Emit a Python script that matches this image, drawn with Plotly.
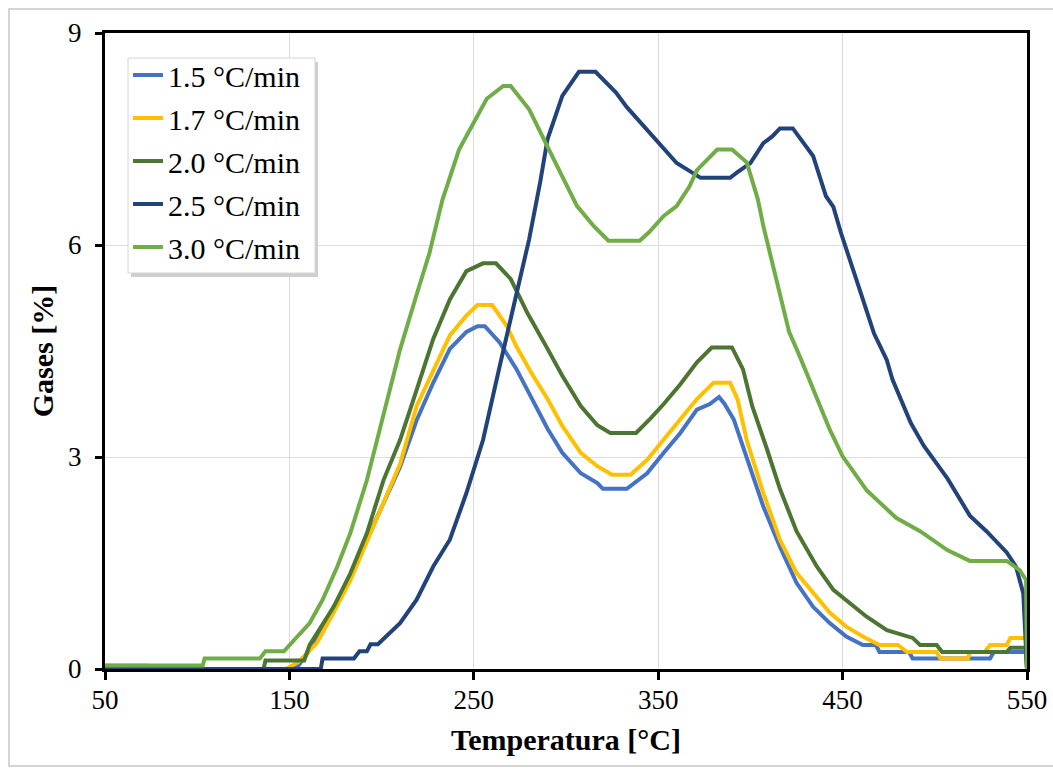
import plotly.graph_objects as go

# ---------------- data ----------------
x_15 = [50, 150, 155, 161, 167, 174, 183, 192, 201, 210, 219, 228, 237, 246, 252, 256, 264, 273, 281, 290, 298,
        308, 317, 320, 333, 344, 353, 362, 371, 378, 383, 386, 391, 398, 407, 416, 425, 434, 443, 452, 461,
        468, 470, 486, 488, 530, 532, 549.5, 550]
y_15 = [0, 0, 0.05, 0.27, 0.55, 0.88, 1.3, 1.83, 2.35, 2.86, 3.52, 4.05, 4.53, 4.77, 4.85, 4.85, 4.62, 4.25, 3.85,
        3.4, 3.06, 2.77, 2.63, 2.55, 2.55, 2.77, 3.06, 3.34, 3.67, 3.75, 3.85, 3.75, 3.53, 3.01, 2.3, 1.73, 1.22,
        0.88, 0.65, 0.46, 0.34, 0.34, 0.24, 0.24, 0.15, 0.15, 0.24, 0.24, 0]

x_17 = [50, 73, 74, 148, 155, 165, 174, 183, 192, 201, 210, 219, 228, 237, 246, 252, 260, 268, 273, 281, 290,
        298, 308, 317, 325, 335, 344, 353, 362, 371, 380, 389, 393, 398, 407, 416, 425, 434, 443, 452, 461,
        470, 480, 485, 501, 503, 518, 519, 527, 530, 539, 541, 549.5, 550]
y_17 = [0.05, 0.05, 0, 0, 0.1, 0.37, 0.8, 1.25, 1.8, 2.35, 2.9, 3.72, 4.23, 4.72, 5.0, 5.15, 5.15, 4.85, 4.57,
        4.2, 3.82, 3.44, 3.06, 2.87, 2.75, 2.75, 2.96, 3.24, 3.53, 3.82, 4.05, 4.05, 3.82, 3.24, 2.49, 1.83,
        1.36, 1.07, 0.8, 0.6, 0.46, 0.34, 0.34, 0.24, 0.24, 0.15, 0.15, 0.24, 0.24, 0.34, 0.34, 0.44, 0.44, 0]

x_20 = [50, 136, 137, 158, 161, 174, 183, 192, 201, 210, 219, 228, 237, 246, 255, 262, 270, 279, 290, 298, 308,
        317, 324, 338, 346, 353, 362, 371, 379, 390, 396, 401, 409, 416, 425, 436, 445, 454, 463, 474, 488,
        492, 501, 504, 539, 541, 549.5, 550]
y_20 = [0, 0, 0.12, 0.12, 0.34, 0.88, 1.35, 1.92, 2.67, 3.24, 3.95, 4.67, 5.23, 5.63, 5.74, 5.74, 5.52, 5.04,
        4.53, 4.15, 3.72, 3.45, 3.34, 3.34, 3.55, 3.75, 4.03, 4.34, 4.55, 4.55, 4.24, 3.72, 3.11, 2.55, 1.95,
        1.45, 1.12, 0.93, 0.74, 0.55, 0.44, 0.34, 0.34, 0.24, 0.24, 0.3, 0.3, 0]

x_25 = [50, 167, 168, 185, 188, 192, 194, 198, 210, 219, 228, 237, 246, 255, 264, 273, 280, 286, 290, 298, 307,
        316, 320, 327, 333, 342, 353, 360, 373, 389, 393, 400, 407, 412, 416, 423, 434, 441, 445, 449, 461,
        467, 474, 477, 487, 494, 507, 519, 528, 539, 544, 548, 550]
y_25 = [0, 0, 0.15, 0.15, 0.25, 0.25, 0.35, 0.35, 0.65, 0.98, 1.45, 1.83, 2.49, 3.24, 4.28, 5.3, 6.08, 6.89,
        7.5, 8.11, 8.45, 8.45, 8.35, 8.16, 7.95, 7.68, 7.36, 7.16, 6.95, 6.95, 7.03, 7.16, 7.44, 7.54, 7.65,
        7.65, 7.26, 6.69, 6.54, 6.18, 5.23, 4.75, 4.37, 4.1, 3.48, 3.16, 2.69, 2.17, 1.95, 1.65, 1.45, 1.07, 0]

x_30 = [50, 103, 104, 134, 137, 147, 161, 168, 176, 183, 192, 201, 210, 219, 226, 233, 242, 252, 257, 266, 270,
        280, 287, 297, 306, 315, 323, 340, 345, 353, 360, 367, 371, 382, 390, 398, 404, 407, 414, 421, 427,
        432, 443, 450, 463, 479, 492, 507, 519, 539, 546, 549.5, 550]
y_30 = [0.05, 0.05, 0.15, 0.15, 0.25, 0.25, 0.65, 0.98, 1.45, 1.92, 2.67, 3.57, 4.52, 5.3, 5.89, 6.64, 7.35,
        7.83, 8.07, 8.25, 8.25, 7.92, 7.54, 7.02, 6.55, 6.27, 6.06, 6.06, 6.18, 6.41, 6.55, 6.83, 7.06, 7.35,
        7.35, 7.17, 6.65, 6.27, 5.52, 4.77, 4.41, 4.1, 3.39, 3.01, 2.53, 2.14, 1.95, 1.68, 1.53, 1.53, 1.4,
        1.26, 0]

series_names = ["1.5 °C/min", "1.7 °C/min", "2.0 °C/min", "2.5 °C/min", "3.0 °C/min"]
series_x = [x_15, x_17, x_20, x_25, x_30]
series_y = [y_15, y_17, y_20, y_25, y_30]
series_colors = ["#4472C4", "#FFC000", "#4B7530", "#22427A", "#70AD47"]

x_ticks = [50, 150, 250, 350, 450, 550]
y_ticks = [0, 3, 6, 9]

# ---------------- figure ----------------
FONT = "Liberation Serif, Times New Roman, serif"
L, R, T, B = 105, 1027, 33, 669       # plot area in px
PW, PH = R - L, B - T


def px_x(p):
    return (p - L) / PW


def px_y(p):
    return (B - p) / PH


fig = go.Figure()
for i, (name, xs, ys, col) in enumerate(zip(series_names, series_x, series_y, series_colors)):
    fig.add_trace(go.Scatter(x=xs, y=ys, mode="lines", name=name, legendgroup=f"g{i}",
                             line=dict(color=col, width=4)))

# page frame
fig.add_shape(type="rect", xref="paper", yref="paper",
              x0=px_x(9), x1=px_x(1060), y0=px_y(766), y1=px_y(9),
              line=dict(color="#c8c8c8", width=1.5), fillcolor="rgba(0,0,0,0)", layer="below")
# legend shadow + box
fig.add_shape(type="rect", xref="paper", yref="paper",
              x0=px_x(131), x1=px_x(318), y0=px_y(277), y1=px_y(62),
              line=dict(width=0), fillcolor="#cfcfcf", layer="above")
fig.add_shape(type="rect", xref="paper", yref="paper",
              x0=px_x(128), x1=px_x(315), y0=px_y(273), y1=px_y(58),
              line=dict(color="#d6d6d6", width=1), fillcolor="white", layer="above")

fig.update_layout(
    width=1053, height=771,
    margin=dict(l=L, r=1053 - R, t=T, b=771 - B),
    paper_bgcolor="white", plot_bgcolor="white",
    font=dict(family=FONT, color="black", size=27),
    showlegend=True,
    legend=dict(x=px_x(128), y=px_y(58) + 9 / PH, xanchor="left", yanchor="top",
                bgcolor="rgba(0,0,0,0)", borderwidth=0,
                font=dict(family=FONT, size=30, color="black"),
                tracegroupgap=1, itemwidth=30),
)
fig.update_xaxes(range=[50, 550], tickvals=x_ticks, ticktext=[str(v) for v in x_ticks], automargin=False,
                 showline=True, linecolor="black", linewidth=3, mirror=True,
                 ticks="outside", ticklen=8, tickwidth=3, tickcolor="black",
                 showgrid=True, gridcolor="#dcdcdc", gridwidth=1, zeroline=False,
                 tickfont=dict(family=FONT, size=27), ticklabelstandoff=-3,
                 title=dict(text="<b>Temperatura [°C]</b>", font=dict(family=FONT, size=30), standoff=15))
fig.update_yaxes(range=[0, 9], tickvals=y_ticks, ticktext=[str(v) for v in y_ticks], automargin=False,
                 showline=True, linecolor="black", linewidth=3, mirror=True,
                 ticks="outside", ticklen=7, tickwidth=3, tickcolor="black",
                 showgrid=True, gridcolor="#dcdcdc", gridwidth=1, zeroline=False,
                 tickfont=dict(family=FONT, size=27), ticklabelstandoff=8,
                 title=dict(text="<b>Gases [%]</b>", font=dict(family=FONT, size=30), standoff=6))

fig.write_html("out.html")
